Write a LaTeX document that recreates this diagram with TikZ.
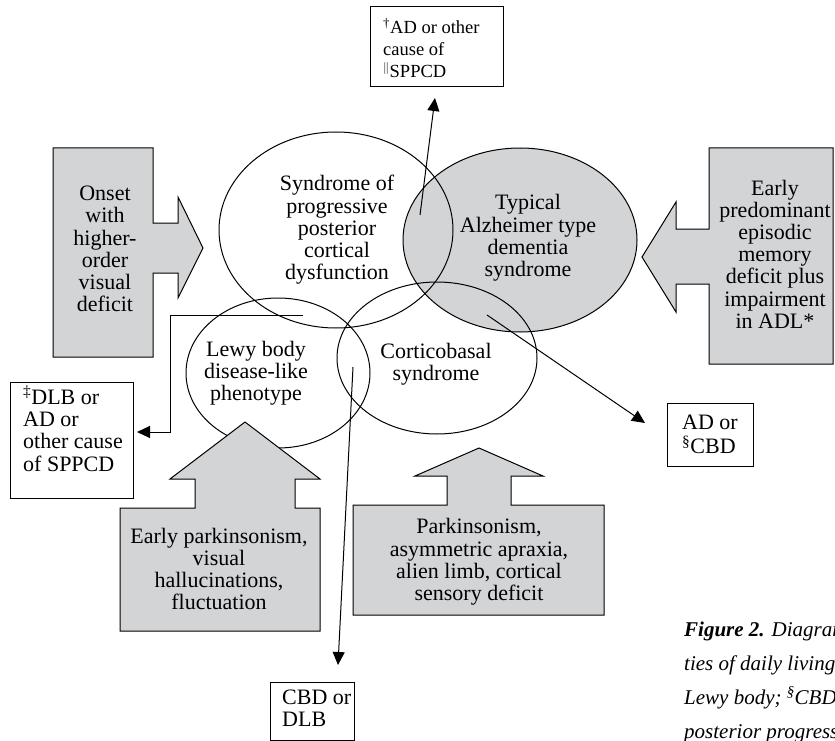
\documentclass[tikz,border=0pt]{standalone}
\usepackage{fontspec}
\setmainfont{Liberation Serif}
\usetikzlibrary{arrows.meta,shapes.geometric}
\definecolor{shade}{RGB}{211,212,214}
\begin{document}
\begin{tikzpicture}[x=1pt,y=-1pt,
  every node/.style={font=\fontsize{22}{22.2}\selectfont},
  lbl/.style={align=center, inner sep=0pt},
  ltxt/.style={align=left, inner sep=0pt, anchor=north west},
  box/.style={draw, line width=1pt, inner sep=0pt},
  oval/.style={ellipse, draw, line width=1pt, inner sep=0pt},
  fatarrow/.style={draw=black, fill=shade, line width=1pt, line join=miter},
  arr/.style={line width=1pt, -{Triangle[length=13pt,width=12pt]}},
  captxt/.style={font=\fontsize{21}{34}\selectfont\itshape, inner sep=0pt, anchor=base west}
]
\useasboundingbox (0,0) rectangle (835,741);

% ellipses
\node[oval, fill=shade, minimum width=234pt, minimum height=184pt] (e2) at (520,240) {};
\node[oval, minimum width=234pt, minimum height=196pt] (e1) at (336,230) {};
\node[oval, minimum width=184pt, minimum height=150pt] (e3) at (278,373) {};
\node[oval, minimum width=200pt, minimum height=152pt] (e4) at (437,358) {};

\node[lbl] (t1) at (337,230) {Syndrome of\\progressive\\posterior\\cortical\\dysfunction};
\node[lbl] (t2) at (528,238) {Typical\\Alzheimer type\\dementia\\syndrome};
\node[lbl] (t3) at (256,373) {Lewy body\\disease-like\\phenotype};
\node[lbl] (t4) at (436,364) {Corticobasal\\syndrome};

% fat arrows
\path[fatarrow] (53,148) -- (153,148) -- (153,223) -- (178,223) -- (178,197) -- (203,248)
  -- (178,298) -- (178,273) -- (153,273) -- (153,357) -- (53,357) -- cycle;
\node[lbl] (onset) at (105,249) {Onset\\with\\higher-\\order\\visual\\deficit};

\path[fatarrow] (833,148) -- (709,148) -- (709,229) -- (676,229) -- (676,202) -- (642,257)
  -- (676,312) -- (676,284) -- (709,284) -- (709,364) -- (833,364) -- cycle;
\node[lbl] (early) at (775,254) {Early\\predominant\\episodic\\memory\\deficit plus\\impairment\\in ADL*};

\path[fatarrow] (245,422) -- (320,479) -- (295,479) -- (295,508) -- (320,508) -- (320,631)
  -- (120,631) -- (120,508) -- (195,508) -- (195,479) -- (170,479) -- cycle;
\node[lbl] (park1) at (219,569) {Early parkinsonism,\\visual\\hallucinations,\\fluctuation};

\path[fatarrow] (479,448) -- (543,476) -- (511,476) -- (511,505) -- (604,505) -- (604,615)
  -- (353,615) -- (353,505) -- (447,505) -- (447,476) -- (415,476) -- cycle;
\node[lbl] (park2) at (479,562) {Parkinsonism,\\asymmetric apraxia,\\alien limb, cortical\\sensory deficit};

% outcome boxes
\node[box, minimum width=133pt, minimum height=80pt] (tbox) at (436.5,47) {};
\node[ltxt, font=\fontsize{18.5}{22}\selectfont] (tboxt) at (383,18) {\textsuperscript{\dag}AD or other\\cause of\\$^{\|}$SPPCD};

\node[box, minimum width=123pt, minimum height=116pt] (lbox) at (71.5,440) {};
\node[ltxt] (lboxt) at (23,386) {\textsuperscript{\ddag}DLB or\\AD or\\other cause\\of SPPCD};

\node[box, align=left, minimum width=86pt, minimum height=63pt] (rbox) at (710,434.5) {AD or\\[2pt]\textsuperscript{\S}CBD};

\node[box, minimum width=84pt, minimum height=58pt] (bbox) at (312,711) {};
\node[ltxt] (bboxt) at (282,690) {CBD or\\DLB};

% connectors
\coordinate (a1s) at (420,215);
\coordinate (a1e) at (435,98);
\draw[arr] (a1s) -- (a1e);

\coordinate (a2s) at (303,315);
\coordinate (a2c) at (170,432);
\coordinate (a2e) at (137,432);
\draw[arr] (a2s) -| (a2c) -- (a2e);

\coordinate (a3s) at (487,315);
\coordinate (a3e) at (645,423);
\draw[arr] (a3s) -- (a3e);

\coordinate (a4s) at (353,367);
\coordinate (a4e) at (338,665);
\draw[arr] (a4s) -- (a4e);

% caption (cut off at the right edge, as in the reference)
\begin{scope}
\clip (0,0) rectangle (835,741);
\node[captxt] (c1) at (684,636) {\textbf{Figure 2.} Diagram};
\node[captxt] (c2) at (684,670) {ties of daily living};
\node[captxt] (c3) at (684,704) {Lewy body; \textsuperscript{\S}CBD};
\node[captxt] (c4) at (684,738) {posterior progressive};
\end{scope}
\end{tikzpicture}
\end{document}
